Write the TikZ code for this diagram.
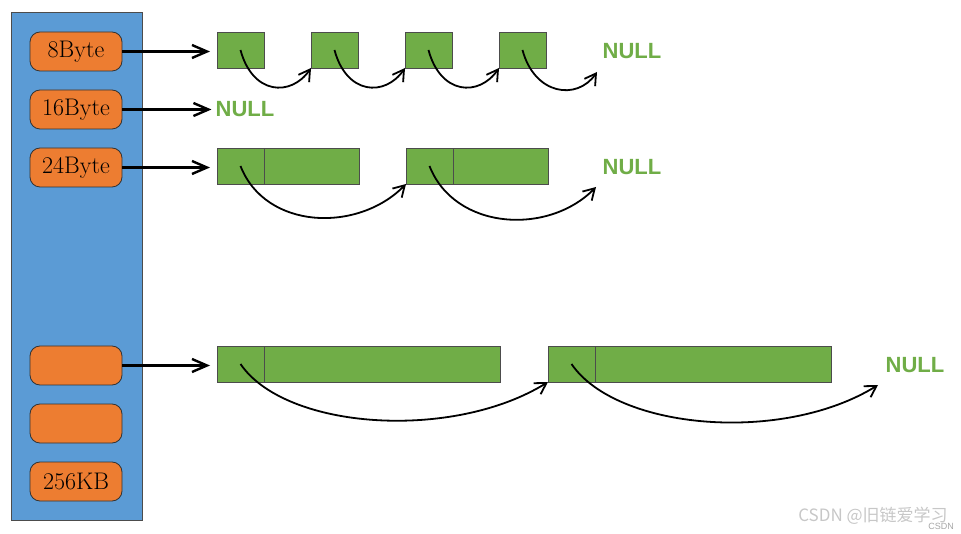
\documentclass[tikz,border=0pt]{standalone}
\usepackage{fontspec}
\usepackage{xcolor}
\usepackage{tikz}
\usetikzlibrary{positioning,arrows.meta}
\newfontfamily\headsans{Liberation Sans}
\newfontfamily\cjkfont{Noto Sans CJK SC}

\definecolor{tableblue}{HTML}{5B9BD5}
\definecolor{slotorange}{HTML}{ED7D31}
\definecolor{blockgreen}{HTML}{70AD47}

\begin{document}
\begin{tikzpicture}[
        x=1pt, y=1pt,
        table/.style={rectangle, draw=black!70, fill=tableblue, line width=1pt, minimum width=131pt, minimum height=507pt, inner sep=0pt, outer sep=0pt},
        slot/.style={rectangle, draw=black!80, fill=slotorange, rounded corners=10pt, line width=0.8pt, minimum width=92pt, minimum height=39pt, inner sep=0pt, outer sep=0pt, font=\fontsize{24}{26}\selectfont},
        cell/.style={rectangle, draw=black!70, fill=blockgreen, line width=0.8pt, minimum width=47pt, minimum height=36pt, inner sep=0pt, outer sep=0pt},
        body/.style={cell, minimum width=#1},
        nullmark/.style={text=blockgreen, font=\headsans\bfseries\fontsize{22}{24}\selectfont, inner sep=1pt},
        arrow/.style={-{Straight Barb[length=15pt,width=13pt]}, line width=2.4pt},
        link/.style={-{Straight Barb[length=11pt,width=13pt]}, line width=1.8pt}
    ]
        \useasboundingbox (0,0) rectangle (961,-534);

        % Free list table
        \node[table, anchor=north west] (table) at (11,-13) {};
        \node[slot] (slot8) at (76,-51.5) {8Byte};
        \node[slot, below=19pt of slot8] (slot16) {16Byte};
        \node[slot, below=19pt of slot16] (slot24) {24Byte};
        \node[slot] (slotA) at (76,-365.5) {};
        \node[slot, below=19pt of slotA] (slotB) {};
        \node[slot, below=19pt of slotB] (slot256) {256KB};

        % 8Byte list
        \node[cell, anchor=north west] (c11) at (217,-32) {};
        \node[cell, right=47pt of c11] (c12) {};
        \node[cell, right=47pt of c12] (c13) {};
        \node[cell, right=47pt of c13] (c14) {};
        \node[nullmark] (null8) at (632,-51) {NULL};
        \coordinate (end8) at (597,-72);

        % 16Byte list
        \node[nullmark] (null16) at (245,-109) {NULL};

        % 24Byte list
        \node[cell, anchor=north west] (c31) at (217,-148) {};
        \node[body=95pt, right=0pt of c31] (d31) {};
        \node[cell, anchor=north west] (c32) at (406,-148) {};
        \node[body=95pt, right=0pt of c32] (d32) {};
        \node[nullmark] (null24) at (632,-167) {NULL};
        \coordinate (end24) at (596,-187);

        % 256KB list
        \node[cell, anchor=north west] (c41) at (217,-346) {};
        \node[body=236pt, right=0pt of c41] (d41) {};
        \node[cell, anchor=north west] (c42) at (548,-346) {};
        \node[body=236pt, right=0pt of c42] (d42) {};
        \node[nullmark] (null256) at (915,-365) {NULL};
        \coordinate (end256) at (878,-385);

        % Arrows
        \draw[arrow, shorten >=7pt] (slot8.east) -- (c11.west |- slot8.east);
        \draw[arrow, shorten >=3pt] (slot16.east) -- (null16.west |- slot16.east);
        \draw[arrow, shorten >=7pt] (slot24.east) -- (c31.west |- slot24.east);
        \draw[arrow, shorten >=7pt] (slotA.east) -- (c41.west |- slotA.east);

        % Links
        \draw[link] (c11.center) .. controls +(12,-45) and +(-20,-29) .. (c12.south west);
        \draw[link] (c12.center) .. controls +(12,-45) and +(-20,-29) .. (c13.south west);
        \draw[link] (c13.center) .. controls +(12,-45) and +(-20,-29) .. (c14.south west);
        \draw[link] (c14.center) .. controls +(12,-45) and +(-20,-29) .. (end8);
        \draw[link] (c31.center) .. controls +(25,-64) and +(-48,-49) .. (c32.south west);
        \draw[link] (c32.center) .. controls +(25,-64) and +(-48,-49) .. (end24);
        \draw[link] (c41.center) .. controls +(45,-66) and +(-95,-59) .. (c42.south west);
        \draw[link] (c42.center) .. controls +(45,-66) and +(-95,-59) .. (end256);

        % Watermark
        \node[text=black!22, font=\cjkfont\fontsize{17}{20}\selectfont] (mark) at (873,-516) {CSDN @旧链爱学习};
        \node[text=black!35, font=\headsans\fontsize{9}{11}\selectfont] (marksmall) at (941,-526) {CSDN};
    \end{tikzpicture}
\end{document}
